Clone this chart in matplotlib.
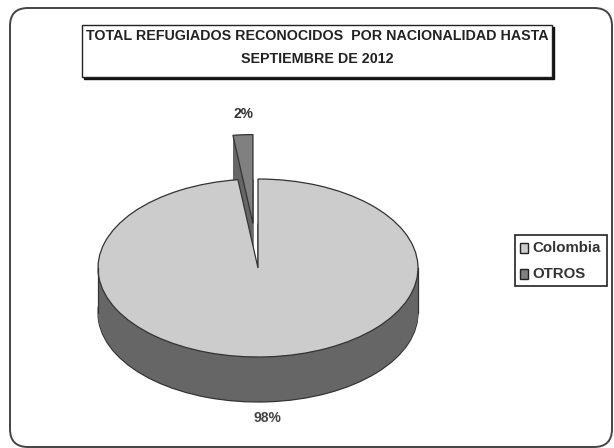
import matplotlib
matplotlib.use("Agg")
import matplotlib.pyplot as plt
from matplotlib.patches import FancyBboxPatch, Rectangle

categorias = ["Colombia", "OTROS"]
valores = [98, 2]
etiquetas = ["98%", "2%"]
explode = [0, 0.5]
colores = ["#cccccc", "#808080"]
color_lado = "#666666"
titulo = "TOTAL REFUGIADOS RECONOCIDOS  POR NACIONALIDAD HASTA\nSEPTIEMBRE DE 2012"

W, H = 614, 448
plt.rcParams['font.family'] = ['Liberation Sans', 'DejaVu Sans']

fig = plt.figure(figsize=(W / 100, H / 100), dpi=100)

# capa de fondo en pixeles, y hacia abajo
bg = fig.add_axes([0, 0, 1, 1])
bg.set_xlim(0, W)
bg.set_ylim(H, 0)
bg.axis("off")
bg.add_patch(FancyBboxPatch((10, 8), 602, 439, boxstyle="round,pad=0,rounding_size=18",
                            fc="white", ec="#444444", lw=1.4))
bg.add_patch(Rectangle((84, 27), 470, 52, fc="#111111", ec="#111111", lw=1))
bg.add_patch(Rectangle((82, 25), 470, 52, fc="white", ec="#222222", lw=1))
bg.text(317, 47.5, titulo, ha="center", va="center", fontsize=10.3, fontweight="bold",
        color="#222222", linespacing=1.75)

# pie: radio 160 px en x, 89 px en y
cx, cy = 258, 268
rx, ry = 160, 89
ax = fig.add_axes([0, 0, 1, 1], facecolor="none")

profundidad = 45
for dz in range(profundidad, 0, -1):
    # solo la capa de abajo lleva borde, es el contorno inferior del cilindro
    borde = dict(edgecolor="#333333", linewidth=0.9) if dz == profundidad else None
    ax.pie(valores, explode=explode, startangle=90, counterclock=False, radius=1,
           colors=[color_lado, color_lado], center=(0, -dz / ry), wedgeprops=borde)
wedges, _ = ax.pie(valores, explode=explode, startangle=90, counterclock=False, radius=1,
                   colors=colores, center=(0, 0),
                   wedgeprops=dict(edgecolor="#333333", linewidth=0.9))
ax.set_aspect("auto")
ax.set_xlim(-cx / rx, (W - cx) / rx)
ax.set_ylim(-(H - cy) / ry, cy / ry)
for lado in (-1, 1):
    ax.plot([lado, lado], [0, -profundidad / ry], color="#333333", lw=0.9)
ax.axis("off")

bg.text(267, 418, etiquetas[0], ha="center", va="center", fontsize=10, fontweight="bold", color="#444444")
bg.text(243, 114, etiquetas[1], ha="center", va="center", fontsize=10, fontweight="bold", color="#333333")

# leyenda
bg.add_patch(Rectangle((515, 235), 92, 51, fc="white", ec="#222222", lw=1.2))
for i, cat in enumerate(categorias):
    y = 248 + i * 26
    bg.add_patch(Rectangle((520, y - 5), 8, 10, fc=colores[i], ec="#222222", lw=1))
    bg.text(532, y, cat, ha="left", va="center", fontsize=10.8, fontweight="bold", color="#333333")

fig.savefig("out.png", dpi=100)
